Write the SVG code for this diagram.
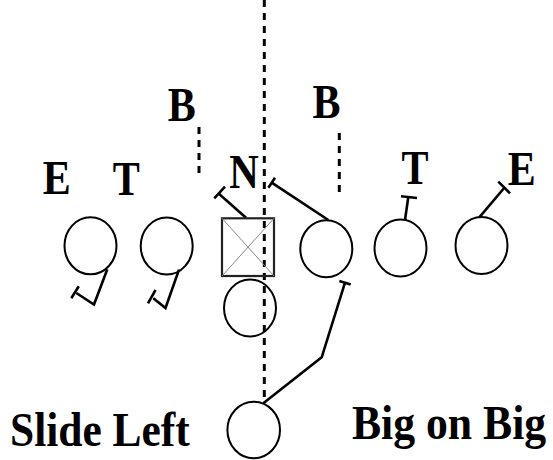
<svg xmlns="http://www.w3.org/2000/svg" width="553" height="460" viewBox="0 0 553 460">
<style>
.pl{fill:none;stroke:#000;stroke-width:2}
.lbl{font-family:"Liberation Serif","Times New Roman",serif;font-weight:bold;font-size:48px;fill:#000}
.blk{fill:none;stroke:#000;stroke-width:2.6;stroke-linejoin:miter}
.dash{fill:none;stroke:#000;stroke-width:3;stroke-dasharray:7 6}
</style>
<rect width="553" height="460" fill="#fff"/>
<g id="labels">
<text class="lbl" x="56.7" y="194" text-anchor="middle" textLength="28" lengthAdjust="spacingAndGlyphs">E</text>
<text class="lbl" x="126.3" y="194.5" text-anchor="middle" textLength="27" lengthAdjust="spacingAndGlyphs">T</text>
<text class="lbl" x="181.7" y="121" text-anchor="middle" textLength="28" lengthAdjust="spacingAndGlyphs">B</text>
<text class="lbl" x="244" y="188" text-anchor="middle" textLength="29.5" lengthAdjust="spacingAndGlyphs">N</text>
<text class="lbl" x="326.5" y="118" text-anchor="middle" textLength="28" lengthAdjust="spacingAndGlyphs">B</text>
<text class="lbl" x="415" y="184" text-anchor="middle" textLength="27" lengthAdjust="spacingAndGlyphs">T</text>
<text class="lbl" x="521.7" y="184.5" text-anchor="middle" textLength="28" lengthAdjust="spacingAndGlyphs">E</text>
<text class="lbl" transform="translate(10,445.5) scale(0.905,1)">Slide Left</text>
<text class="lbl" transform="translate(352,439) scale(0.91,1)">Big on Big</text>
</g>
<g id="connectors">
<line class="dash" x1="264.3" y1="0" x2="264.3" y2="402"/>
<line class="dash" x1="199" y1="127" x2="199" y2="177"/>
<line class="dash" x1="339.3" y1="133" x2="339.3" y2="198"/>
<polyline class="blk" points="246,217.7 218.3,193.3"/>
<line class="blk" x1="214.3" y1="198.3" x2="225" y2="186.7"/>
<polyline class="blk" points="328.3,220 271.7,182.7"/>
<line class="blk" x1="275" y1="177.7" x2="268.4" y2="187.7"/>
<polyline class="blk" points="405,220 408.3,197"/>
<line class="blk" x1="401" y1="196.3" x2="417" y2="198"/>
<polyline class="blk" points="479.3,217.3 505,187"/>
<line class="blk" x1="498.3" y1="181.7" x2="510" y2="193.3"/>
<polyline class="blk" points="107.3,269.3 94,304.5 76.3,293"/>
<line class="blk" x1="71.3" y1="298.3" x2="78.8" y2="286.3"/>
<polyline class="blk" points="179,269.6 165.5,308 153.3,298.3"/>
<line class="blk" x1="148" y1="303.3" x2="155.5" y2="290"/>
<polyline class="blk" points="263.3,403.3 321.7,357.3 345,282.7"/>
<line class="blk" x1="339.3" y1="280.9" x2="350.7" y2="284.5"/>
</g>
<g id="E_left"><ellipse class="pl" cx="90.5" cy="245.8" rx="26" ry="28.5"/></g>
<g id="T_left"><ellipse class="pl" cx="166.7" cy="246" rx="26" ry="28.5"/></g>
<g id="center_box">
<rect x="222" y="218.3" width="52" height="57.7" fill="none" stroke="#222" stroke-width="2.2"/>
<line x1="222" y1="218.3" x2="274" y2="276" stroke="#888" stroke-width="1"/>
<line x1="274" y1="218.3" x2="222" y2="276" stroke="#888" stroke-width="1"/>
</g>
<g id="C_under"><ellipse class="pl" cx="250" cy="308" rx="26" ry="28.5"/></g>
<g id="G_right"><ellipse class="pl" cx="326.3" cy="248.7" rx="26" ry="28.5"/></g>
<g id="T_right"><ellipse class="pl" cx="400.5" cy="248" rx="26" ry="28.5"/></g>
<g id="E_right"><ellipse class="pl" cx="481.5" cy="245.4" rx="26" ry="28.5"/></g>
<g id="QB"><ellipse class="pl" cx="253.7" cy="430" rx="26.3" ry="28.3"/></g>
</svg>
